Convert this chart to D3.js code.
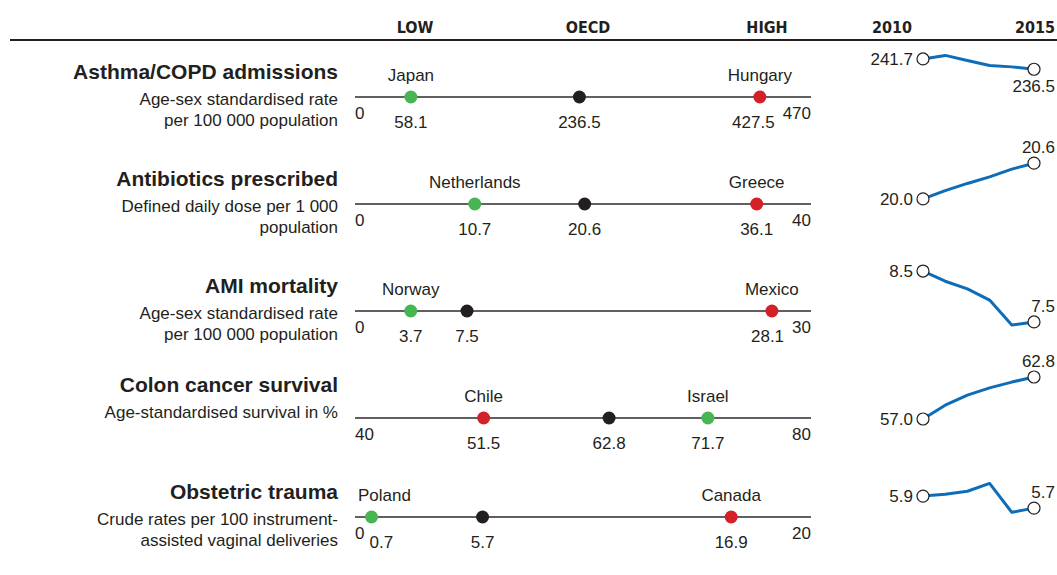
<!DOCTYPE html>
<html>
<head>
<meta charset="utf-8">
<script src="https://cdn.jsdelivr.net/npm/d3@7"></script>
<style>
  body { margin: 0; background: #fff; }
  text { font-family: "Liberation Sans", Arial, sans-serif; fill: #231f20; }
  .reg { font-size: 17px; }
  .ttl { font-size: 21px; font-weight: bold; }
  .hdr { font-family: "DejaVu Sans Condensed", "Liberation Sans", sans-serif; font-size: 16px; font-weight: bold; }
</style>
</head>
<body>
<script>
// indicators, best / worst country and OECD average
var indicators = ["Asthma/COPD admissions", "Antibiotics prescribed", "AMI mortality", "Colon cancer survival", "Obstetric trauma"];
var units = [
  ["Age-sex standardised rate", "per 100 000 population"],
  ["Defined daily dose per 1 000", "population"],
  ["Age-sex standardised rate", "per 100 000 population"],
  ["Age-standardised survival in %"],
  ["Crude rates per 100 instrument-", "assisted vaginal deliveries"]
];
var axisMin = [0, 0, 0, 40, 0];
var axisMax = [470, 40, 30, 80, 20];
var bestCountry = ["Japan", "Netherlands", "Norway", "Israel", "Poland"];
var bestValue = [58.1, 10.7, 3.7, 71.7, 0.7];
var worstCountry = ["Hungary", "Greece", "Mexico", "Chile", "Canada"];
var worstValue = [427.5, 36.1, 28.1, 51.5, 16.9];
var oecdValue = [236.5, 20.6, 7.5, 62.8, 5.7];
var headers = ["LOW", "OECD", "HIGH"];

// OECD trend 2010-2015
var years = [2010, 2011, 2012, 2013, 2014, 2015];
var trendAsthma = [241.7, 243.5, 240.9, 238.4, 237.7, 236.5];
var trendAntibiotics = [20.0, 20.14, 20.26, 20.37, 20.5, 20.6];
var trendAmi = [8.5, 8.3, 8.15, 7.93, 7.44, 7.5];
var trendColon = [57.0, 58.9, 60.3, 61.3, 62.1, 62.8];
var trendObstetric = [5.9, 5.93, 5.98, 6.11, 5.63, 5.7];
var trends = [trendAsthma, trendAntibiotics, trendAmi, trendColon, trendObstetric];
// y limits of each small trend chart
var trendDomain = [[215.4, 243.7], [19.68, 20.62], [7.44, 8.54], [55.2, 62.94], [5.32, 6.25]];

var width = 1057, height = 575;
var green = "#47b552", red = "#d42027", black = "#231f20", blue = "#0d6db8";

var svg = d3.select("body").append("svg")
            .attr("width", width)
            .attr("height", height);

var rowY = d3.scaleOrdinal().domain(indicators).range([97, 204, 311, 418, 517]);
var sx = d3.scaleLinear().domain([2010, 2015]).range([923, 1034]);

// header
var hdrX = d3.scaleOrdinal().domain(headers).range([415, 588, 767]);
svg.selectAll(".hdrtxt")
   .data(headers)
   .enter().append("text")
   .attr("class", "hdr")
   .attr("x", function(d){ return hdrX(d); })
   .attr("y", 33)
   .attr("text-anchor", "middle")
   .text(function(d){ return d; });
svg.append("text").attr("class", "hdr").attr("x", 912).attr("y", 33)
   .attr("text-anchor", "end").text(years[0]);
svg.append("text").attr("class", "hdr").attr("x", 1055).attr("y", 33)
   .attr("text-anchor", "end").text(years[years.length - 1]);

svg.append("line")
   .attr("x1", 10).attr("x2", width)
   .attr("y1", 40).attr("y2", 40)
   .attr("stroke", black)
   .attr("stroke-width", 2);

indicators.forEach(function(name, i){
  var y0 = rowY(name);
  var g = svg.append("g");

  // left labels
  var subStart = units[i].length > 1 ? y0 + 8 : y0;
  g.append("text").attr("class", "ttl")
   .attr("x", 338).attr("y", subStart - 26)
   .attr("text-anchor", "end").text(name);
  units[i].forEach(function(u, k){
    g.append("text").attr("class", "reg")
     .attr("x", 338).attr("y", subStart + k * 21)
     .attr("text-anchor", "end").text(u);
  });

  // range line
  var x = d3.scaleLinear().domain([axisMin[i], axisMax[i]]).range([356, 800]);
  g.append("line")
   .attr("x1", 355).attr("x2", 811)
   .attr("y1", y0).attr("y2", y0)
   .attr("stroke", "#2b2b2b").attr("stroke-width", 1.5);

  var minLab = g.append("text").attr("class", "reg")
                .attr("x", 355).attr("y", y0 + 22).text(axisMin[i]);
  var maxLab = g.append("text").attr("class", "reg")
                .attr("x", 811).attr("y", y0 + 22)
                .attr("text-anchor", "end").text(axisMax[i]);
  var leftEdge = 355 + minLab.node().getComputedTextLength() + 5;
  var rightEdge = 811 - maxLab.node().getComputedTextLength() - 8;

  var pts = [
    {v: bestValue[i], c: bestCountry[i], col: green},
    {v: oecdValue[i], c: null, col: black},
    {v: worstValue[i], c: worstCountry[i], col: red}
  ];

  pts.forEach(function(p){
    var cx = x(p.v);
    g.append("circle")
     .attr("cx", cx).attr("cy", y0)
     .attr("r", 6.5)
     .attr("fill", p.col);

    var vt = g.append("text").attr("class", "reg")
              .attr("y", y0 + 31).text(p.v.toFixed(1));
    var w = vt.node().getComputedTextLength();
    var left = Math.max(leftEdge, Math.min(rightEdge - w, cx - w / 2));
    vt.attr("x", left);

    if (p.c) {
      var ct = g.append("text").attr("class", "reg")
                .attr("y", y0 - 16).text(p.c);
      var cw = ct.node().getComputedTextLength();
      ct.attr("x", Math.max(358, Math.min(811 - cw, cx - cw / 2)));
    }
  });

  // trend line
  var data = trends[i];
  var sy = d3.scaleLinear().domain(trendDomain[i]).range([y0 + 14, y0 - 42]);
  var lineFunction = d3.line()
                       .x(function(d, j){ return sx(years[j]); })
                       .y(function(d){ return sy(d); })
                       .curve(d3.curveLinear);
  g.append("path")
   .attr("d", lineFunction(data))
   .attr("fill", "none")
   .attr("stroke", blue)
   .attr("stroke-width", 3)
   .attr("stroke-linejoin", "round");

  var first = data[0], last = data[data.length - 1];
  [0, data.length - 1].forEach(function(j){
    g.append("circle")
     .attr("cx", sx(years[j])).attr("cy", sy(data[j]))
     .attr("r", 6)
     .attr("fill", "#fff")
     .attr("stroke", black)
     .attr("stroke-width", 1.2);
  });
  g.append("text").attr("class", "reg")
   .attr("x", sx(years[0]) - 10).attr("y", sy(first) + 6)
   .attr("text-anchor", "end").text(first.toFixed(1));
  // label above if the line comes up to the last point, else below
  var above = data[data.length - 2] < last;
  g.append("text").attr("class", "reg")
   .attr("x", 1055)
   .attr("y", above ? sy(last) - 10 : sy(last) + 23)
   .attr("text-anchor", "end").text(last.toFixed(1));
});
</script>
</body>
</html>
